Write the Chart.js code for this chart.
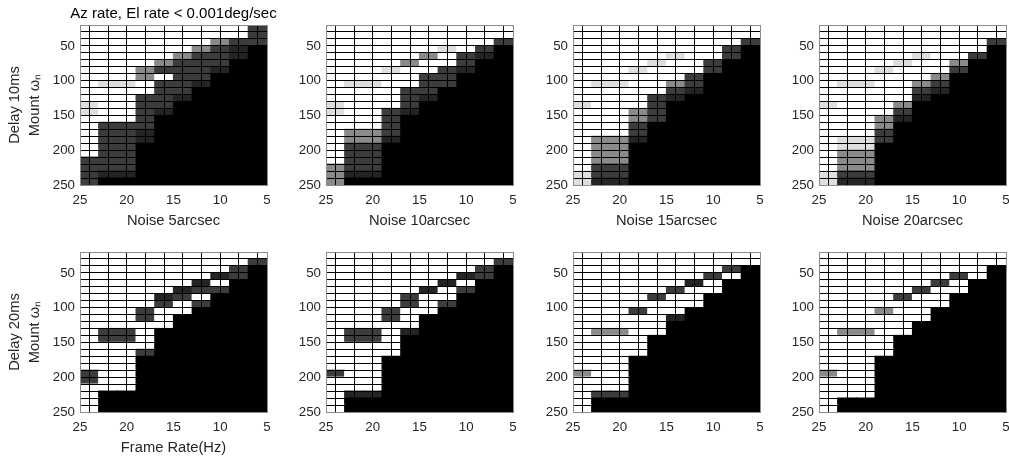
<!DOCTYPE html>
<html>
<head>
<meta charset="utf-8">
<script src="https://cdn.jsdelivr.net/npm/chart.js@4.4.1/dist/chart.umd.min.js"></script>
<style>
  html, body { margin: 0; padding: 0; background: #fff; }
  #page { position: relative; width: 1009px; height: 457px; overflow: hidden; }
  #page canvas { position: absolute; }
</style>
</head>
<body>
<div id="page"></div>
<script>
// Cell edges: frame rate (x, drawn 25 -> 5) and mount omega_n (y, 20 -> 250)
const frameEdges = [25, 23, 21, 19, 17, 15, 13, 11, 9, 7, 5];
const omegaEdges = [20, 30, 40, 50, 60, 70, 80, 90, 100, 110, 120, 130, 140, 150, 160, 170, 180, 190, 200, 210, 220, 230, 240, 250];
const frameTicks = [25, 20, 15, 10, 5];
const omegaTicks = [50, 100, 150, 200, 250];

// shade per cell: 0 white .. 5 black
const shades = ['#ffffff', '#dedede', '#8a8a8a', '#3c3c3c', '#242424', '#000000'];

// one string per omega row (top to bottom), one digit per frame-rate column (25 -> 5)
const d10n5 = [
  '0000000003', '0000000003', '0000000233', '0000002345', '0000023345', '0000233355',
  '0002333455', '0002033555', '0110334555', '0000335555', '0003345555', '1003355555',
  '1003455555', '0003555555', '0333555555', '0334555555', '0334555555', '0335555555',
  '0335555555', '3335555555', '3335555555', '3445555555', '3555555555'
];
const d10n10 = [
  '0000000000', '0000000000', '0000000003', '0000001035', '0000020345', '0000200355',
  '0001003455', '0000033555', '0110033555', '0000335555', '0000345555', '1000355555',
  '1003455555', '0003555555', '0003555555', '0223555555', '0224555555', '0335555555',
  '0335555555', '0335555555', '2335555555', '2445555555', '2555555555'
];
const d10n15 = [
  '0000000000', '0000000000', '0000000003', '0000000035', '0000010035', '0000100355',
  '0001000355', '0000003555', '0110023555', '0000034555', '0000345555', '1000355555',
  '0002355555', '0002355555', '0003555555', '0003555555', '0224555555', '0225555555',
  '0225555555', '0225555555', '0335555555', '1335555555', '1445555555'
];
const d10n20 = [
  '0000000000', '0000000000', '0000000003', '0000000005', '0000010035', '0000100255',
  '0001000355', '0000002555', '0110023555', '0000034555', '0000045555', '1000255555',
  '0000355555', '0002455555', '0002555555', '0003555555', '0113555555', '0115555555',
  '0225555555', '0225555555', '0225555555', '1335555555', '1445555555'
];
const d20n5 = [
  '0000000000', '0000000003', '0000000035', '0000000435', '0000004055', '0000043355',
  '0000430555', '0000303555', '0003005555', '0003055555', '0000055555', '0330555555',
  '0330555555', '0000555555', '0003555555', '0005555555', '0005555555', '3005555555',
  '3005555555', '0005555555', '0555555555', '0555555555', '0555555555'
];
const d20n10 = [
  '0000000000', '0000000003', '0000000035', '0000000435', '0000004055', '0000040355',
  '0000300555', '0000303555', '0003005555', '0003055555', '0000055555', '0330455555',
  '0330555555', '0000555555', '0000555555', '0005555555', '0005555555', '3005555555',
  '0005555555', '0005555555', '0445555555', '0555555555', '0555555555'
];
const d20n15 = [
  '0000000000', '0000000000', '0000000035', '0000000305', '0000004055', '0000030055',
  '0000300555', '0000000555', '0003005555', '0000045555', '0000055555', '0220055555',
  '0000555555', '0000555555', '0000555555', '0005555555', '0005555555', '2005555555',
  '0005555555', '0005555555', '0335555555', '0555555555', '0555555555'
];
const d20n20 = [
  '0000000000', '0000000000', '0000000005', '0000000305', '0000003055', '0000030055',
  '0000300555', '0000000555', '0002005555', '0000005555', '0000055555', '0220055555',
  '0000555555', '0000555555', '0000555555', '0005555555', '0005555555', '2005555555',
  '0005555555', '0005555555', '0005555555', '0555555555', '0555555555'
];

const panels = [
  { cells: d10n5, row: 0, col: 0, xTitle: 'Noise 5arcsec', yTitle: ['Delay 10ms', 'Mount ωₙ'], title: 'Az rate, El rate < 0.001deg/sec' },
  { cells: d10n10, row: 0, col: 1, xTitle: 'Noise 10arcsec' },
  { cells: d10n15, row: 0, col: 2, xTitle: 'Noise 15arcsec' },
  { cells: d10n20, row: 0, col: 3, xTitle: 'Noise 20arcsec' },
  { cells: d20n5, row: 1, col: 0, xTitle: 'Frame Rate(Hz)', yTitle: ['Delay 20ms', 'Mount ωₙ'] },
  { cells: d20n10, row: 1, col: 1 },
  { cells: d20n15, row: 1, col: 2 },
  { cells: d20n20, row: 1, col: 3 }
];

// layout of the 4x2 grid (plot area corners)
const colLeft = [80, 326, 573, 819];
const rowTop = [25, 252];
const AREA_W = 187, AREA_H = 160, X_H = 45;
const FRAME = '#8c8c8c';
const EDGE = '#000000';

Chart.defaults.font.family = "'Liberation Sans', Arial, Helvetica, sans-serif";
Chart.defaults.font.size = 13.3;
Chart.defaults.color = '#262626';

const page = document.getElementById('page');

function cellData(rows) {
  const pts = [], colors = [];
  rows.forEach((row, r) => {
    for (let c = 0; c < row.length; c++) {
      pts.push({ x: (frameEdges[c] + frameEdges[c + 1]) / 2, y: [omegaEdges[r], omegaEdges[r + 1]] });
      colors.push(shades[+row[c]]);
    }
  });
  return { pts, colors };
}

function frameAxis(pos, extra) {
  return Object.assign({
    type: 'linear', axis: pos === 'top' || pos === 'bottom' ? 'x' : 'y', position: pos,
    grid: { display: false, drawTicks: false },
    border: { display: true, color: FRAME, width: 1, z: 2 }
  }, extra);
}

// cell outlines: grid lines on the inner edges, drawn above the cells
const edgeGrid = { display: true, drawTicks: false, color: EDGE, lineWidth: 1, z: 1 };

function makePanel(p) {
  const yW = p.col === 0 ? 80 : 45;
  const rightW = p.title ? 80 : 5;
  const padTop = p.row === 0 ? 25 : 5;
  const canvas = document.createElement('canvas');
  canvas.width = yW + AREA_W + rightW;
  canvas.height = padTop + AREA_H + X_H;
  canvas.style.left = (colLeft[p.col] - yW) + 'px';
  canvas.style.top = (rowTop[p.row] - padTop) + 'px';
  page.appendChild(canvas);

  const { pts, colors } = cellData(p.cells);
  new Chart(canvas, {
    type: 'bar',
    data: {
      datasets: [{
        data: pts, backgroundColor: colors,
        borderWidth: 0, inflateAmount: 0.6,
        grouped: false, barPercentage: 1, categoryPercentage: 1,
        xAxisID: 'x', yAxisID: 'y'
      }]
    },
    options: {
      responsive: false, animation: false, events: [],
      layout: { padding: { top: p.title ? 0 : padTop, left: 0, right: 0, bottom: 0 } },
      plugins: {
        legend: { display: false },
        tooltip: { enabled: false },
        title: {
          display: !!p.title, text: p.title, color: '#000',
          font: { size: 15, weight: 'normal', lineHeight: 1.2 },
          padding: { top: 5, bottom: 2 }
        }
      },
      scales: {
        x: frameAxis('bottom', {
          min: 5, max: 25, reverse: true, offset: false,
          afterBuildTicks: s => { s.ticks = frameTicks.map(v => ({ value: v })); },
          afterFit: s => { s.height = X_H; s.paddingLeft = 0; s.paddingRight = 0; },
          ticks: { padding: 7, maxRotation: 0, autoSkip: false },
          title: { display: !!p.xTitle, text: p.xTitle, font: { size: 14.7, lineHeight: 1.2 }, padding: { top: 0, bottom: 0 } }
        }),
        y: frameAxis('left', {
          min: 20, max: 250, reverse: true, beginAtZero: false,
          afterBuildTicks: s => { s.ticks = omegaTicks.map(v => ({ value: v })); },
          afterFit: s => { s.width = yW; s.paddingTop = 0; s.paddingBottom = 0; },
          ticks: { padding: 5, autoSkip: false },
          title: { display: !!p.yTitle, text: p.yTitle, font: { size: 14.7, lineHeight: 1.36 }, padding: { top: 5, bottom: 0 } }
        }),
        x2: frameAxis('top', {
          min: 5, max: 25, reverse: true, offset: false,
          afterBuildTicks: s => { s.ticks = frameEdges.slice(1, -1).map(v => ({ value: v })); },
          ticks: { display: false },
          grid: edgeGrid
        }),
        y2: frameAxis('right', {
          min: 20, max: 250, reverse: true, beginAtZero: false,
          afterBuildTicks: s => { s.ticks = omegaEdges.slice(1, -1).map(v => ({ value: v })); },
          afterFit: s => { s.width = rightW; },
          ticks: { display: false },
          grid: edgeGrid
        })
      }
    }
  });
}

panels.forEach(makePanel);
</script>
</body>
</html>
